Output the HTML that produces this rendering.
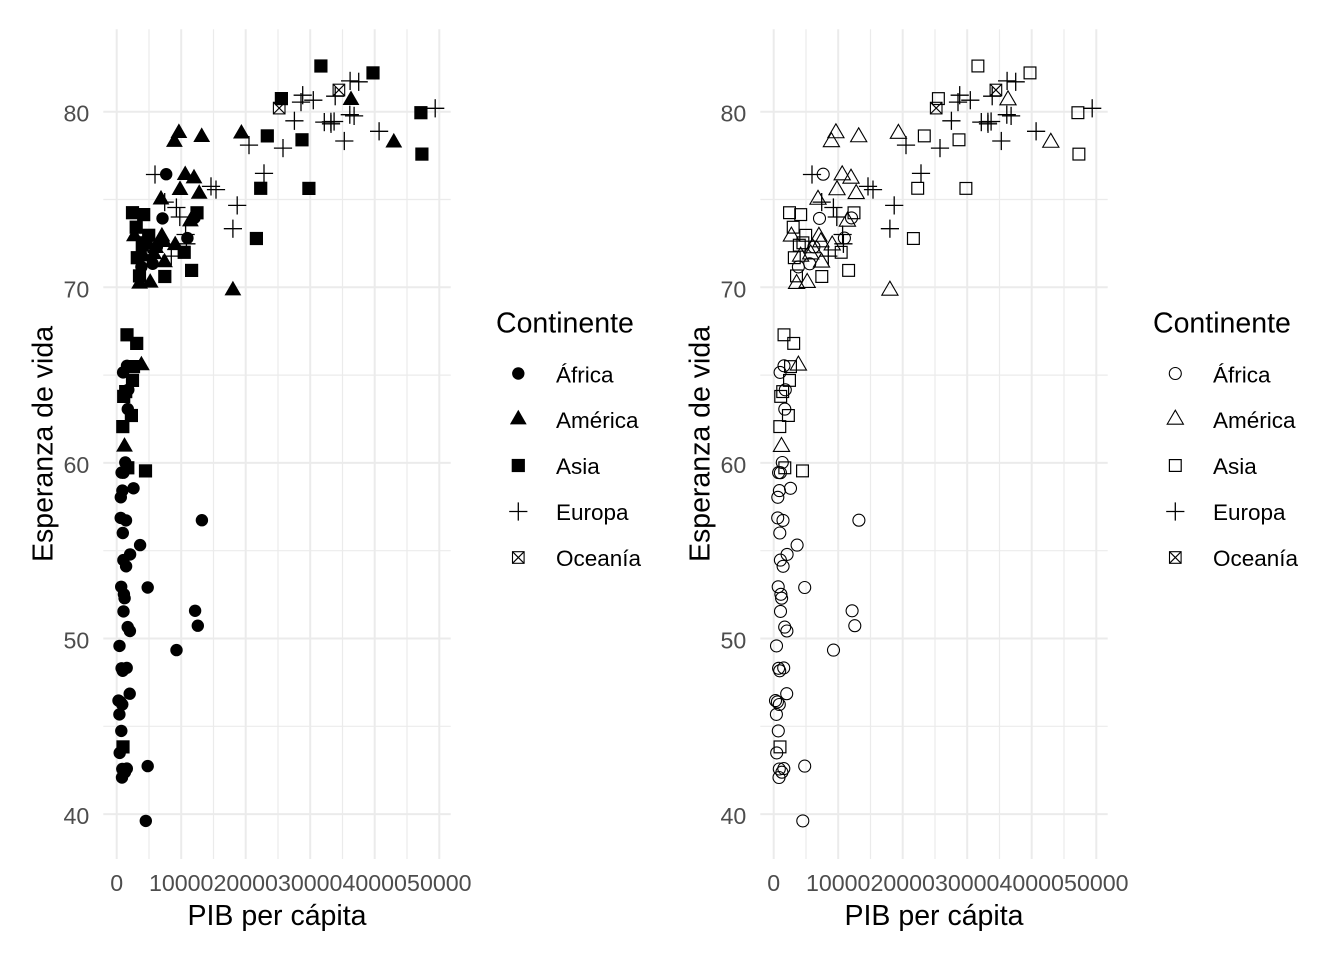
<!DOCTYPE html>
<html>
<head>
<meta charset="utf-8">
<style>
html,body{margin:0;padding:0;background:#fff;}
svg{display:block;}
text{font-family:"Liberation Sans",Arial,sans-serif;}
.tk{font-size:23.2px;fill:#4D4D4D;}
.ttl{font-size:28.5px;fill:#000;}
.lg{font-size:22.5px;fill:#000;}
.gmj{stroke:#EBEBEB;stroke-width:2;}
.gmn{stroke:#EBEBEB;stroke-width:1.2;}
</style>
</head>
<body>
<svg width="1344" height="960" viewBox="0 0 1344 960" xmlns="http://www.w3.org/2000/svg">
<defs>
  <circle id="fA" r="6.2" fill="#000"/>
  <polygon id="fM" points="0,-9.7 8.4,4.85 -8.4,4.85" fill="#000"/>
  <rect id="fS" x="-6.6" y="-6.6" width="13.2" height="13.2" fill="#000"/>
  <g id="pE" stroke="#000" stroke-width="1.3" fill="none"><line x1="-9.1" y1="0" x2="9.1" y2="0"/><line x1="0" y1="-9.1" x2="0" y2="9.1"/></g>
  <g id="pO" stroke="#000" stroke-width="1.1" fill="none"><rect x="-5.8" y="-5.8" width="11.6" height="11.6"/><line x1="-5.8" y1="-5.8" x2="5.8" y2="5.8"/><line x1="-5.8" y1="5.8" x2="5.8" y2="-5.8"/></g>
  <circle id="oA" r="6" fill="none" stroke="#000" stroke-width="1.1"/>
  <polygon id="oM" points="0,-9.3 8.1,4.65 -8.1,4.65" fill="none" stroke="#000" stroke-width="1.1"/>
  <rect id="oS" x="-5.9" y="-5.9" width="11.8" height="11.8" fill="none" stroke="#000" stroke-width="1.2"/>

  <g id="grid">
    <line class="gmn" x1="149.0" y1="29.3" x2="149.0" y2="859"/>
    <line class="gmn" x1="213.5" y1="29.3" x2="213.5" y2="859"/>
    <line class="gmn" x1="278.0" y1="29.3" x2="278.0" y2="859"/>
    <line class="gmn" x1="342.5" y1="29.3" x2="342.5" y2="859"/>
    <line class="gmn" x1="407.0" y1="29.3" x2="407.0" y2="859"/>
    <line class="gmn" x1="103.3" y1="726.3" x2="450.7" y2="726.3"/>
    <line class="gmn" x1="103.3" y1="550.7" x2="450.7" y2="550.7"/>
    <line class="gmn" x1="103.3" y1="375.1" x2="450.7" y2="375.1"/>
    <line class="gmn" x1="103.3" y1="199.5" x2="450.7" y2="199.5"/>
    <line class="gmj" x1="116.7" y1="29.3" x2="116.7" y2="859"/>
    <line class="gmj" x1="181.2" y1="29.3" x2="181.2" y2="859"/>
    <line class="gmj" x1="245.7" y1="29.3" x2="245.7" y2="859"/>
    <line class="gmj" x1="310.2" y1="29.3" x2="310.2" y2="859"/>
    <line class="gmj" x1="374.7" y1="29.3" x2="374.7" y2="859"/>
    <line class="gmj" x1="439.3" y1="29.3" x2="439.3" y2="859"/>
    <line class="gmj" x1="103.3" y1="814.1" x2="450.7" y2="814.1"/>
    <line class="gmj" x1="103.3" y1="638.5" x2="450.7" y2="638.5"/>
    <line class="gmj" x1="103.3" y1="462.9" x2="450.7" y2="462.9"/>
    <line class="gmj" x1="103.3" y1="287.3" x2="450.7" y2="287.3"/>
    <line class="gmj" x1="103.3" y1="111.7" x2="450.7" y2="111.7"/>
  </g>
</defs>

<rect x="0" y="0" width="1344" height="960" fill="#fff"/>

<!-- ================= LEFT PANEL ================= -->
<use href="#grid"/>
<g class="tk">
  <text x="89.3" y="824.1" text-anchor="end">40</text>
  <text x="89.3" y="648.5" text-anchor="end">50</text>
  <text x="89.3" y="472.9" text-anchor="end">60</text>
  <text x="89.3" y="297.3" text-anchor="end">70</text>
  <text x="89.3" y="121.7" text-anchor="end">80</text>
  <text x="116.7" y="891" text-anchor="middle">0</text>
  <text x="181.2" y="891" text-anchor="middle">10000</text>
  <text x="245.7" y="891" text-anchor="middle">20000</text>
  <text x="310.2" y="891" text-anchor="middle">30000</text>
  <text x="374.7" y="891" text-anchor="middle">40000</text>
  <text x="439.3" y="891" text-anchor="middle">50000</text>
</g>
<text class="ttl" x="277" y="925" text-anchor="middle">PIB per cápita</text>
<text class="ttl" transform="translate(52.5,444) rotate(-90)" text-anchor="middle">Esperanza de vida</text>

<g>
<!-- Africa -->
<use href="#fA" x="156.9" y="246.9"/><use href="#fA" x="147.7" y="766.1"/><use href="#fA" x="126.0" y="520.4"/><use href="#fA" x="197.8" y="625.7"/>
<use href="#fA" x="124.6" y="598.2"/><use href="#fA" x="119.5" y="645.9"/><use href="#fA" x="129.9" y="631.0"/><use href="#fA" x="121.3" y="730.9"/>
<use href="#fA" x="127.7" y="627.1"/><use href="#fA" x="123.1" y="372.4"/><use href="#fA" x="118.5" y="700.6"/><use href="#fA" x="140.1" y="545.1"/>
<use href="#fA" x="126.7" y="667.9"/><use href="#fA" x="130.1" y="554.4"/><use href="#fA" x="152.7" y="263.8"/><use href="#fA" x="195.1" y="610.8"/>
<use href="#fA" x="120.8" y="497.3"/><use href="#fA" x="121.2" y="586.8"/><use href="#fA" x="201.9" y="520.2"/><use href="#fA" x="121.6" y="472.6"/>
<use href="#fA" x="125.3" y="462.5"/><use href="#fA" x="122.8" y="533.0"/><use href="#fA" x="120.4" y="701.9"/><use href="#fA" x="126.1" y="566.3"/>
<use href="#fA" x="126.8" y="768.6"/><use href="#fA" x="119.4" y="714.4"/><use href="#fA" x="194.5" y="217.9"/><use href="#fA" x="123.4" y="472.7"/>
<use href="#fA" x="121.6" y="668.3"/><use href="#fA" x="123.4" y="560.1"/><use href="#fA" x="128.3" y="389.8"/><use href="#fA" x="187.4" y="238.1"/>
<use href="#fA" x="141.4" y="266.9"/><use href="#fA" x="122.0" y="777.5"/><use href="#fA" x="147.7" y="587.5"/><use href="#fA" x="120.7" y="517.9"/>
<use href="#fA" x="129.7" y="693.7"/><use href="#fA" x="166.2" y="174.2"/><use href="#fA" x="122.3" y="704.5"/><use href="#fA" x="127.0" y="365.8"/>
<use href="#fA" x="127.8" y="409.1"/><use href="#fA" x="122.3" y="769.0"/><use href="#fA" x="122.7" y="670.8"/><use href="#fA" x="176.5" y="650.1"/>
<use href="#fA" x="133.5" y="488.3"/><use href="#fA" x="145.8" y="820.9"/><use href="#fA" x="123.9" y="594.3"/><use href="#fA" x="122.4" y="490.6"/>
<use href="#fA" x="162.5" y="218.4"/><use href="#fA" x="123.5" y="611.4"/><use href="#fA" x="124.9" y="772.2"/><use href="#fA" x="119.7" y="752.9"/>
<!-- Americas -->
<use href="#fM" x="199.2" y="193.9"/><use href="#fM" x="141.4" y="365.4"/><use href="#fM" x="175.2" y="245.3"/><use href="#fM" x="351.0" y="100.2"/>
<use href="#fM" x="201.7" y="137.1"/><use href="#fM" x="161.9" y="236.6"/><use href="#fM" x="178.9" y="133.1"/><use href="#fM" x="174.4" y="142.0"/>
<use href="#fM" x="155.6" y="248.1"/><use href="#fM" x="161.0" y="199.6"/><use href="#fM" x="153.7" y="254.3"/><use href="#fM" x="150.2" y="282.8"/>
<use href="#fM" x="124.5" y="446.8"/><use href="#fM" x="139.6" y="283.8"/><use href="#fM" x="163.9" y="242.2"/><use href="#fM" x="194.0" y="178.5"/>
<use href="#fM" x="134.4" y="236.4"/><use href="#fM" x="180.0" y="190.1"/><use href="#fM" x="143.6" y="256.5"/><use href="#fM" x="164.5" y="262.4"/>
<use href="#fM" x="241.4" y="133.7"/><use href="#fM" x="232.9" y="290.5"/><use href="#fM" x="393.8" y="142.6"/><use href="#fM" x="185.2" y="175.2"/>
<use href="#fM" x="190.4" y="221.5"/>
<!-- Asia -->
<use href="#fS" x="123.0" y="746.9"/><use href="#fS" x="308.9" y="188.4"/><use href="#fS" x="125.7" y="391.6"/><use href="#fS" x="127.8" y="467.8"/>
<use href="#fS" x="148.7" y="235.3"/><use href="#fS" x="373.0" y="72.9"/><use href="#fS" x="132.5" y="380.4"/><use href="#fS" x="139.5" y="275.9"/>
<use href="#fS" x="191.6" y="270.4"/><use href="#fS" x="145.5" y="470.9"/><use href="#fS" x="281.4" y="98.6"/><use href="#fS" x="320.9" y="66.0"/>
<use href="#fS" x="145.9" y="242.8"/><use href="#fS" x="127.0" y="334.8"/><use href="#fS" x="267.3" y="135.9"/><use href="#fS" x="421.9" y="154.1"/>
<use href="#fS" x="184.2" y="252.3"/><use href="#fS" x="197.0" y="212.8"/><use href="#fS" x="136.7" y="343.4"/><use href="#fS" x="122.8" y="426.6"/>
<use href="#fS" x="123.7" y="396.4"/><use href="#fS" x="260.7" y="188.3"/><use href="#fS" x="133.5" y="366.6"/><use href="#fS" x="137.3" y="257.7"/>
<use href="#fS" x="256.4" y="238.5"/><use href="#fS" x="420.9" y="112.7"/><use href="#fS" x="142.3" y="245.2"/><use href="#fS" x="143.7" y="214.6"/>
<use href="#fS" x="302.0" y="139.8"/><use href="#fS" x="164.8" y="276.5"/><use href="#fS" x="132.5" y="212.7"/><use href="#fS" x="136.2" y="227.2"/>
<use href="#fS" x="131.4" y="415.5"/>
<!-- Europe -->
<use href="#pE" x="155.0" y="174.5"/><use href="#pE" x="349.8" y="114.7"/><use href="#pE" x="334.1" y="121.5"/><use href="#pE" x="164.7" y="202.1"/>
<use href="#pE" x="185.6" y="234.5"/><use href="#pE" x="211.0" y="186.4"/><use href="#pE" x="264.0" y="173.4"/><use href="#pE" x="344.3" y="141.0"/>
<use href="#pE" x="331.0" y="123.8"/><use href="#pE" x="313.3" y="100.2"/><use href="#pE" x="324.3" y="122.1"/><use href="#pE" x="294.4" y="120.8"/>
<use href="#pE" x="232.9" y="228.7"/><use href="#pE" x="350.1" y="80.9"/><use href="#pE" x="379.1" y="131.3"/><use href="#pE" x="301.0" y="102.1"/>
<use href="#pE" x="176.4" y="207.5"/><use href="#pE" x="354.1" y="115.9"/><use href="#pE" x="435.2" y="108.3"/><use href="#pE" x="216.0" y="189.6"/>
<use href="#pE" x="249.0" y="145.1"/><use href="#pE" x="186.4" y="243.8"/><use href="#pE" x="179.8" y="217.0"/><use href="#pE" x="237.2" y="205.4"/>
<use href="#pE" x="283.0" y="148.1"/><use href="#pE" x="302.7" y="95.2"/><use href="#pE" x="335.2" y="96.2"/><use href="#pE" x="358.7" y="81.8"/>
<use href="#pE" x="171.3" y="256.1"/><use href="#pE" x="330.9" y="121.8"/>
<!-- Oceania -->
<use href="#pO" x="338.9" y="90.0"/><use href="#pO" x="279.2" y="108.1"/>
</g>

<!-- Left legend -->
<text class="ttl" x="496" y="332.7">Continente</text>
<use href="#fA" x="518.3" y="373.5"/>
<use href="#fM" x="518.3" y="419.5"/>
<use href="#fS" x="518.3" y="465.5"/>
<use href="#pE" x="518.3" y="511.5"/>
<use href="#pO" x="518.3" y="557.5"/>
<g class="lg">
  <text x="556" y="382.3">África</text>
  <text x="556" y="428.1">América</text>
  <text x="556" y="474.1">Asia</text>
  <text x="556" y="520.1">Europa</text>
  <text x="556" y="566.1">Oceanía</text>
</g>

<!-- ================= RIGHT PANEL ================= -->
<g transform="translate(657,0)">
<use href="#grid"/>
<g class="tk">
  <text x="89.3" y="824.1" text-anchor="end">40</text>
  <text x="89.3" y="648.5" text-anchor="end">50</text>
  <text x="89.3" y="472.9" text-anchor="end">60</text>
  <text x="89.3" y="297.3" text-anchor="end">70</text>
  <text x="89.3" y="121.7" text-anchor="end">80</text>
  <text x="116.7" y="891" text-anchor="middle">0</text>
  <text x="181.2" y="891" text-anchor="middle">10000</text>
  <text x="245.7" y="891" text-anchor="middle">20000</text>
  <text x="310.2" y="891" text-anchor="middle">30000</text>
  <text x="374.7" y="891" text-anchor="middle">40000</text>
  <text x="439.3" y="891" text-anchor="middle">50000</text>
</g>
<text class="ttl" x="277" y="925" text-anchor="middle">PIB per cápita</text>
<text class="ttl" transform="translate(52.5,444) rotate(-90)" text-anchor="middle">Esperanza de vida</text>

<g>
<!-- Africa -->
<use href="#oA" x="156.9" y="246.9"/><use href="#oA" x="147.7" y="766.1"/><use href="#oA" x="126.0" y="520.4"/><use href="#oA" x="197.8" y="625.7"/>
<use href="#oA" x="124.6" y="598.2"/><use href="#oA" x="119.5" y="645.9"/><use href="#oA" x="129.9" y="631.0"/><use href="#oA" x="121.3" y="730.9"/>
<use href="#oA" x="127.7" y="627.1"/><use href="#oA" x="123.1" y="372.4"/><use href="#oA" x="118.5" y="700.6"/><use href="#oA" x="140.1" y="545.1"/>
<use href="#oA" x="126.7" y="667.9"/><use href="#oA" x="130.1" y="554.4"/><use href="#oA" x="152.7" y="263.8"/><use href="#oA" x="195.1" y="610.8"/>
<use href="#oA" x="120.8" y="497.3"/><use href="#oA" x="121.2" y="586.8"/><use href="#oA" x="201.9" y="520.2"/><use href="#oA" x="121.6" y="472.6"/>
<use href="#oA" x="125.3" y="462.5"/><use href="#oA" x="122.8" y="533.0"/><use href="#oA" x="120.4" y="701.9"/><use href="#oA" x="126.1" y="566.3"/>
<use href="#oA" x="126.8" y="768.6"/><use href="#oA" x="119.4" y="714.4"/><use href="#oA" x="194.5" y="217.9"/><use href="#oA" x="123.4" y="472.7"/>
<use href="#oA" x="121.6" y="668.3"/><use href="#oA" x="123.4" y="560.1"/><use href="#oA" x="128.3" y="389.8"/><use href="#oA" x="187.4" y="238.1"/>
<use href="#oA" x="141.4" y="266.9"/><use href="#oA" x="122.0" y="777.5"/><use href="#oA" x="147.7" y="587.5"/><use href="#oA" x="120.7" y="517.9"/>
<use href="#oA" x="129.7" y="693.7"/><use href="#oA" x="166.2" y="174.2"/><use href="#oA" x="122.3" y="704.5"/><use href="#oA" x="127.0" y="365.8"/>
<use href="#oA" x="127.8" y="409.1"/><use href="#oA" x="122.3" y="769.0"/><use href="#oA" x="122.7" y="670.8"/><use href="#oA" x="176.5" y="650.1"/>
<use href="#oA" x="133.5" y="488.3"/><use href="#oA" x="145.8" y="820.9"/><use href="#oA" x="123.9" y="594.3"/><use href="#oA" x="122.4" y="490.6"/>
<use href="#oA" x="162.5" y="218.4"/><use href="#oA" x="123.5" y="611.4"/><use href="#oA" x="124.9" y="772.2"/><use href="#oA" x="119.7" y="752.9"/>
<!-- Americas -->
<use href="#oM" x="199.2" y="193.9"/><use href="#oM" x="141.4" y="365.4"/><use href="#oM" x="175.2" y="245.3"/><use href="#oM" x="351.0" y="100.2"/>
<use href="#oM" x="201.7" y="137.1"/><use href="#oM" x="161.9" y="236.6"/><use href="#oM" x="178.9" y="133.1"/><use href="#oM" x="174.4" y="142.0"/>
<use href="#oM" x="155.6" y="248.1"/><use href="#oM" x="161.0" y="199.6"/><use href="#oM" x="153.7" y="254.3"/><use href="#oM" x="150.2" y="282.8"/>
<use href="#oM" x="124.5" y="446.8"/><use href="#oM" x="139.6" y="283.8"/><use href="#oM" x="163.9" y="242.2"/><use href="#oM" x="194.0" y="178.5"/>
<use href="#oM" x="134.4" y="236.4"/><use href="#oM" x="180.0" y="190.1"/><use href="#oM" x="143.6" y="256.5"/><use href="#oM" x="164.5" y="262.4"/>
<use href="#oM" x="241.4" y="133.7"/><use href="#oM" x="232.9" y="290.5"/><use href="#oM" x="393.8" y="142.6"/><use href="#oM" x="185.2" y="175.2"/>
<use href="#oM" x="190.4" y="221.5"/>
<!-- Asia -->
<use href="#oS" x="123.0" y="746.9"/><use href="#oS" x="308.9" y="188.4"/><use href="#oS" x="125.7" y="391.6"/><use href="#oS" x="127.8" y="467.8"/>
<use href="#oS" x="148.7" y="235.3"/><use href="#oS" x="373.0" y="72.9"/><use href="#oS" x="132.5" y="380.4"/><use href="#oS" x="139.5" y="275.9"/>
<use href="#oS" x="191.6" y="270.4"/><use href="#oS" x="145.5" y="470.9"/><use href="#oS" x="281.4" y="98.6"/><use href="#oS" x="320.9" y="66.0"/>
<use href="#oS" x="145.9" y="242.8"/><use href="#oS" x="127.0" y="334.8"/><use href="#oS" x="267.3" y="135.9"/><use href="#oS" x="421.9" y="154.1"/>
<use href="#oS" x="184.2" y="252.3"/><use href="#oS" x="197.0" y="212.8"/><use href="#oS" x="136.7" y="343.4"/><use href="#oS" x="122.8" y="426.6"/>
<use href="#oS" x="123.7" y="396.4"/><use href="#oS" x="260.7" y="188.3"/><use href="#oS" x="133.5" y="366.6"/><use href="#oS" x="137.3" y="257.7"/>
<use href="#oS" x="256.4" y="238.5"/><use href="#oS" x="420.9" y="112.7"/><use href="#oS" x="142.3" y="245.2"/><use href="#oS" x="143.7" y="214.6"/>
<use href="#oS" x="302.0" y="139.8"/><use href="#oS" x="164.8" y="276.5"/><use href="#oS" x="132.5" y="212.7"/><use href="#oS" x="136.2" y="227.2"/>
<use href="#oS" x="131.4" y="415.5"/>
<!-- Europe -->
<use href="#pE" x="155.0" y="174.5"/><use href="#pE" x="349.8" y="114.7"/><use href="#pE" x="334.1" y="121.5"/><use href="#pE" x="164.7" y="202.1"/>
<use href="#pE" x="185.6" y="234.5"/><use href="#pE" x="211.0" y="186.4"/><use href="#pE" x="264.0" y="173.4"/><use href="#pE" x="344.3" y="141.0"/>
<use href="#pE" x="331.0" y="123.8"/><use href="#pE" x="313.3" y="100.2"/><use href="#pE" x="324.3" y="122.1"/><use href="#pE" x="294.4" y="120.8"/>
<use href="#pE" x="232.9" y="228.7"/><use href="#pE" x="350.1" y="80.9"/><use href="#pE" x="379.1" y="131.3"/><use href="#pE" x="301.0" y="102.1"/>
<use href="#pE" x="176.4" y="207.5"/><use href="#pE" x="354.1" y="115.9"/><use href="#pE" x="435.2" y="108.3"/><use href="#pE" x="216.0" y="189.6"/>
<use href="#pE" x="249.0" y="145.1"/><use href="#pE" x="186.4" y="243.8"/><use href="#pE" x="179.8" y="217.0"/><use href="#pE" x="237.2" y="205.4"/>
<use href="#pE" x="283.0" y="148.1"/><use href="#pE" x="302.7" y="95.2"/><use href="#pE" x="335.2" y="96.2"/><use href="#pE" x="358.7" y="81.8"/>
<use href="#pE" x="171.3" y="256.1"/><use href="#pE" x="330.9" y="121.8"/>
<!-- Oceania -->
<use href="#pO" x="338.9" y="90.0"/><use href="#pO" x="279.2" y="108.1"/>
</g>

<!-- Right legend -->
<text class="ttl" x="496" y="332.7">Continente</text>
<use href="#oA" x="518.3" y="373.5"/>
<use href="#oM" x="518.3" y="419.5"/>
<use href="#oS" x="518.3" y="465.5"/>
<use href="#pE" x="518.3" y="511.5"/>
<use href="#pO" x="518.3" y="557.5"/>
<g class="lg">
  <text x="556" y="382.3">África</text>
  <text x="556" y="428.1">América</text>
  <text x="556" y="474.1">Asia</text>
  <text x="556" y="520.1">Europa</text>
  <text x="556" y="566.1">Oceanía</text>
</g>
</g>
</svg>
</body>
</html>
